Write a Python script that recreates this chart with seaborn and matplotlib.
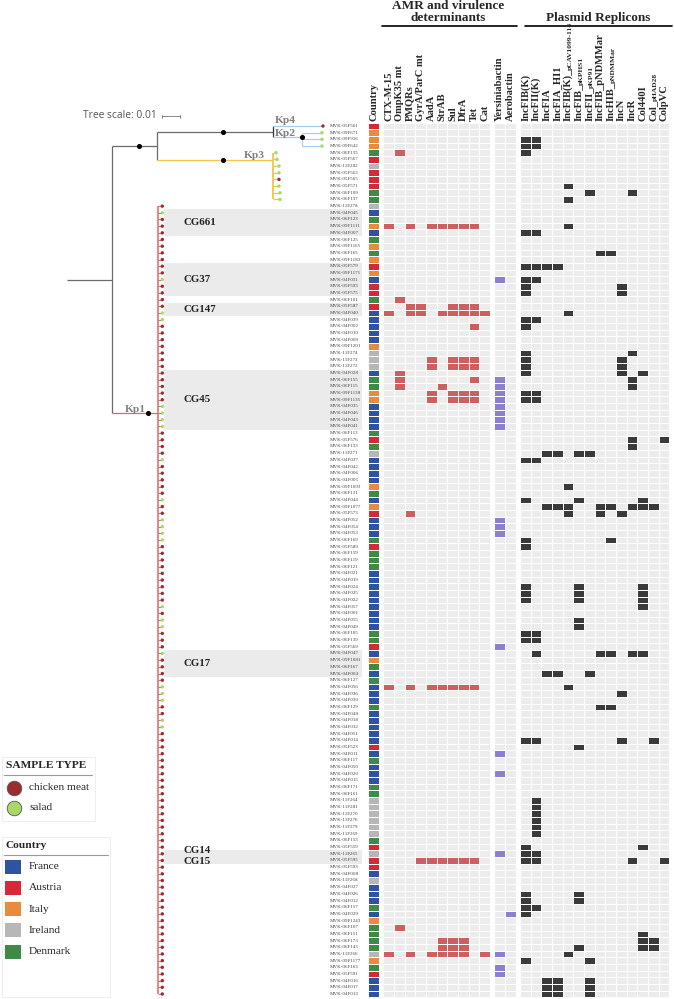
import matplotlib
matplotlib.use("Agg")
import matplotlib.pyplot as plt
from matplotlib.colors import ListedColormap
from matplotlib.patches import Rectangle
import numpy as np
import pandas as pd
import seaborn as sns

# ---------------------------------------------------------------- data
LEAF_IDS = [
    "05F561", "09F671", "09F916", "09F642", "06F135", "05F567", "11F282", "05F563", "05F565", "05F571",
    "06F109", "06F137", "11F278", "04F045", "06F123", "09F1111", "04F007", "06F125", "09F1165", "06F165",
    "09F1183", "05F579", "09F1171", "04F031", "05F593", "05F575", "06F101", "05F587", "04F040", "04F039",
    "04F002", "04F010", "04F009", "09F1201", "11F274", "11F273", "11F272", "04F028", "06F155", "06F115",
    "09F1138", "09F1135", "04F035", "04F046", "04F043", "04F041", "06F113", "05F576", "06F133", "11F271",
    "04F037", "04F042", "04F006", "04F005", "09F1093", "06F131", "04F044", "09F1077", "05F573", "04F052",
    "04F054", "04F053", "06F169", "05F589", "06F159", "06F119", "06F121", "04F021", "04F019", "04F024",
    "04F025", "04F022", "04F057", "04F001", "04F055", "04F049", "06F105", "06F139", "05F569", "04F047",
    "09F1081", "06F167", "04F004", "06F127", "04F056", "04F036", "04F030", "06F129", "04F048", "04F018",
    "04F032", "04F051", "04F014", "05F523", "04F011", "06F117", "04F050", "04F020", "04F015", "06F171",
    "06F161", "11F264", "11F281", "11F270", "11F276", "11F279", "11F269", "06F153", "05F559", "11F265",
    "05F595", "05F593", "04F008", "11F268", "04F027", "04F026", "04F012", "06F157", "04F029", "09F1243",
    "06F107", "06F151", "06F173", "06F143", "11F266", "09F1177", "06F163", "05F591", "04F016", "04F017",
    "04F013",
]

# F France, A Austria, I Italy, R Ireland, D Denmark (one letter per leaf, top to bottom)
COUNTRY_CODES = (
    "AIIIDARAAA" "DDRFDIFDID" "IAIFAADAFF" "FFFIRRRFDD" "IIFFFFDADR"
    "FFFFIDFIAF" "FFDADDDFFF" "FFFFFFDDAF" "IDFDFFFDFF" "FFFAFDFFFD"
    "DRRRRRRDAR" "AAFRFFFDFI" "DDDDRIDAFFF"
)
# C chicken meat, S salad
SAMPLE_CODES = (
    "CSSSSSSSCS" "SSCSCCCCCC" "CCCSCCCCSS" "CCCCCCCCCC" "CCSSSSCCCC"
    "SCCCCCSCCS" "SSSCCCCCCC" "CCSCSSCCCS" "CCCCSSSCCS" "SCCCCCCCCC"
    "CCCCCCCCCC" "CCCCCCCCCC" "CCCCCCCCCCC"
)

COUNTRIES = ["France", "Austria", "Italy", "Ireland", "Denmark"]
COUNTRY_KEYS = ["F", "A", "I", "R", "D"]
COUNTRY_COLORS = ["#2c54a3", "#d62839", "#ea8a3c", "#b7b7b7", "#3f8a45"]

SAMPLE_TYPES = ["chicken meat", "salad"]
SAMPLE_KEYS = ["C", "S"]
SAMPLE_COLORS = ["#9c2b2e", "#a8d968"]

AMR_LABELS = ["CTX-M-15", "OmpK35 mt", "PMQRs", "GyrA/ParC mt", "AadA",
              "StrAB", "Sul", "DfrA", "Tet", "Cat"]
# rows (1-based, top to bottom) carrying each determinant
AMR_ROWS = [
    [16, 29, 85, 125],
    [5, 27, 38, 39, 40, 121],
    [16, 28, 29, 59, 85, 125],
    [28, 29, 111],
    [16, 36, 37, 41, 42, 85, 111, 125],
    [16, 29, 40, 85, 111, 123, 124, 125],
    [16, 28, 29, 36, 37, 41, 42, 85, 111, 123, 124, 125],
    [16, 28, 29, 36, 37, 41, 42, 85, 111, 123, 124, 125],
    [16, 28, 29, 31, 36, 37, 39, 41, 42, 85, 111],
    [29, 125],
]

VIR_LABELS = ["Yersiniabactin", "Aerobactin"]
VIR_ROWS = [
    [24, 39, 40, 41, 42, 43, 44, 45, 46, 60, 61, 62, 79, 95, 98, 110, 125, 127, 128],
    [119],
]

PLASMID_LABELS = ["IncFIB(K)", "IncFII(K)", "IncFIA", "IncFIA_HI1", "IncFIB(K)_",
                  "IncFIB_", "IncFII_", "IncFIB_pNDMMar", "IncHIB_", "IncN", "IncR",
                  "Col440I", "Col_", "ColpVC"]
PLASMID_SUBS = ["", "", "", "", "pCAV1099-114", "pKPHS1", "pKP91", "", "pNDMMar",
                "", "", "", "pHAD28", ""]
PLASMID_ROWS = [
    [3, 4, 5, 17, 22, 24, 25, 26, 30, 31, 35, 36, 37, 38, 41, 42, 51, 57, 63, 64,
     70, 71, 72, 77, 78, 93, 109, 110, 111, 116, 117, 118, 119, 126],
    [3, 4, 17, 22, 24, 30, 41, 42, 51, 77, 78, 80, 93, 102, 103, 104, 105, 106,
     107, 110, 111, 118],
    [22, 50, 58, 83, 129, 130, 131],
    [22, 50, 58, 83, 129, 130, 131],
    [10, 12, 16, 29, 55, 58, 59, 85, 125],
    [50, 57, 70, 71, 72, 75, 76, 94, 116, 117, 124],
    [11, 50, 83, 126, 129, 130, 131],
    [20, 58, 59, 80, 88],
    [20, 58, 63, 80, 88],
    [25, 26, 36, 37, 38, 59, 86, 93],
    [11, 35, 39, 40, 48, 49, 58, 80, 111],
    [38, 57, 58, 70, 71, 72, 73, 80, 109, 122, 123, 124],
    [58, 93, 123, 124],
    [48, 111],
]

# clonal groups: (label, first row, last row, label nudge in rows)
CLONAL_GROUPS = [("CG661", 14, 17, 0), ("CG37", 22, 26, 0), ("CG147", 28, 29, 0),
                 ("CG45", 38, 46, 0), ("CG17", 80, 83, 0), ("CG14", 110, 110, -0.45),
                 ("CG15", 111, 111, 0.2)]

# tree depths (drawing units, 0.01 substitutions = 18 units)
ROOT_X, MID_X, UPPER_X, KP_SPLIT_X, KP2_X = 67, 112, 157, 273, 302
KP1_X, KP1_TIP = 158.3, 162.3
KP4_TIP, KP2_TIP = 323, 322
KP3_TIPS = [276, 277, 279, 279, 279, 279, 280, 280]   # rows 5-12

N = len(LEAF_IDS)

# ---------------------------------------------------------------- layout
W, H = 674, 999
TOP, PITCH = 122.66, 6.677
BOTTOM = TOP + N * PITCH

EMPTY = "#ececec"
AMR_RED = "#cf5f5f"
VIR_PURPLE = "#8b7fcf"
PLASMID_DARK = "#3a3a3a"
TREE_GREY = "#6a6a6a"
KP1_COL = "#d9686c"
KP3_COL = "#f3c545"
KP24_COL = "#a8cdef"
SERIF = ["Liberation Serif", "DejaVu Serif"]

sns.set_theme(style="white")
plt.rcParams["font.family"] = SERIF

fig = plt.figure(figsize=(W / 100, H / 100), dpi=100)


def px_axes(x0, x1, y0=TOP, y1=BOTTOM):
    return fig.add_axes([x0 / W, 1 - y1 / H, (x1 - x0) / W, (y1 - y0) / H])


def presence(rows_per_col):
    m = np.zeros((N, len(rows_per_col)), dtype=int)
    for c, rows in enumerate(rows_per_col):
        m[np.array(rows) - 1, c] = 1
    return m


def draw_block(ax, matrix, labels, colors):
    sns.heatmap(matrix, ax=ax, cmap=ListedColormap(colors), vmin=-0.5,
                vmax=len(colors) - 0.5, cbar=False, linewidths=0.6,
                linecolor="white", xticklabels=labels, yticklabels=False)
    ax.xaxis.tick_top()
    ax.set_xticklabels(labels, rotation=90, fontsize=7.6, fontweight="bold",
                       ha="center", va="bottom")
    ax.tick_params(axis="x", length=0, pad=1.5)
    ax.set_xlabel("")
    ax.set_ylabel("")
    return ax


# ---------------------------------------------------------------- heatmaps
country_idx = pd.DataFrame({"Country": [COUNTRY_KEYS.index(c) for c in COUNTRY_CODES]})
draw_block(px_axes(368.3, 379.0), country_idx, ["Country"], COUNTRY_COLORS)
draw_block(px_axes(383.3, 490.0), presence(AMR_ROWS), AMR_LABELS, [EMPTY, AMR_RED])
draw_block(px_axes(494.3, 515.7), presence(VIR_ROWS), VIR_LABELS, [EMPTY, VIR_PURPLE])
pax = draw_block(px_axes(520.0, 669.3), presence(PLASMID_ROWS), PLASMID_LABELS,
                 [EMPTY, PLASMID_DARK])

# subscripted replicon names: small text continuing each rotated label
fig.canvas.draw()
renderer = fig.canvas.get_renderer()
for lab, sub in zip(pax.get_xticklabels(), PLASMID_SUBS):
    if not sub:
        continue
    bb = lab.get_window_extent(renderer)
    fig.text((bb.x1 + 0.5) / W, (bb.y1 - 1.5) / H, sub, rotation=90, fontsize=5.4,
             fontweight="bold", ha="right", va="bottom")

# ---------------------------------------------------------------- tree
tax = px_axes(0, 368)
tax.set_xlim(0, 368)
tax.set_ylim(N, 0)
tax.axis("off")


def row_y(r):
    return r - 0.5


def seg(x0, y0, x1, y1, color, lw=0.9):
    tax.plot([x0, x1], [y0, y1], color=color, lw=lw, solid_capstyle="butt",
             clip_on=False, zorder=2)


for name, r0, r1, nudge in CLONAL_GROUPS:
    tax.add_patch(Rectangle((163.5, r0 - 1), 362 - 163.5, r1 - r0 + 1,
                            facecolor="#ebebeb", edgecolor="none", zorder=0))
    tax.text(184, (r0 + r1) / 2 - 0.5 + nudge, name, fontsize=7.8, fontweight="bold",
             color="#222222", va="center", ha="left", zorder=3)

upper_y, kp1_y = row_y(4), row_y(44)
kp24_y, kp3_y = 1.35, 5.6
seg(ROOT_X, (upper_y + kp1_y) / 2, MID_X, (upper_y + kp1_y) / 2, TREE_GREY)
seg(MID_X, upper_y, MID_X, kp1_y, TREE_GREY)
seg(MID_X, upper_y, UPPER_X, upper_y, TREE_GREY)
seg(UPPER_X, kp24_y, UPPER_X, kp3_y, TREE_GREY)
seg(UPPER_X, kp24_y, KP_SPLIT_X, kp24_y, TREE_GREY)
seg(KP_SPLIT_X, 0.55, KP_SPLIT_X, 2.2, "#333333")
# Kp4
seg(KP_SPLIT_X, row_y(1), KP4_TIP, row_y(1), KP24_COL)
# Kp2
seg(KP_SPLIT_X, 2.2, KP2_X, 2.2, KP24_COL)
seg(KP2_X, row_y(2), KP2_X, row_y(4), KP24_COL)
for r in (2, 3, 4):
    seg(KP2_X, row_y(r), KP2_TIP, row_y(r), KP24_COL)
# Kp3
seg(UPPER_X, kp3_y, KP_SPLIT_X, kp3_y, KP3_COL)
seg(KP_SPLIT_X - 0.5, row_y(5), KP_SPLIT_X - 0.5, row_y(12), KP3_COL, lw=1.3)
for i, tx in enumerate(KP3_TIPS):
    seg(KP_SPLIT_X, row_y(5 + i), tx, row_y(5 + i), KP3_COL)
# Kp1
seg(MID_X, kp1_y, KP1_X, kp1_y, KP1_COL)
seg(KP1_X, row_y(13), KP1_X, row_y(N), KP1_COL, lw=1.1)
for r in range(13, N + 1):
    seg(KP1_X, row_y(r), KP1_TIP, row_y(r), KP1_COL, lw=0.7)

# internal node markers
nodes_x = [139, 223, 223, KP2_X, 147.7]
nodes_y = [upper_y, kp24_y, kp3_y, 2.2, kp1_y]
tax.scatter(nodes_x, nodes_y, s=7, color="black", zorder=4, clip_on=False)

tip_x = [KP4_TIP] + [KP2_TIP] * 3 + KP3_TIPS + [KP1_TIP] * (N - 12)
tip_col = [SAMPLE_COLORS[SAMPLE_KEYS.index(s)] for s in SAMPLE_CODES]
tax.scatter(tip_x, [row_y(r) for r in range(1, N + 1)], s=6, c=tip_col,
            linewidths=0, zorder=4, clip_on=False)

for r, leaf in enumerate(LEAF_IDS, start=1):
    tax.text(330, row_y(r), "MVK-" + leaf, fontsize=3.6, color="#444444",
             va="center", ha="left", zorder=3)

# ---------------------------------------------------------------- overlay
oax = fig.add_axes([0, 0, 1, 1])
oax.set_xlim(0, W)
oax.set_ylim(H, 0)
oax.axis("off")

for txt, x, y in [("Kp4", 275, 120.5), ("Kp2", 275, 134), ("Kp3", 244, 156), ("Kp1", 125, 409)]:
    oax.text(x, y, txt, fontsize=8.2, fontweight="bold", color="#808080",
             ha="left", va="center")

oax.text(83, 116, "Tree scale: 0.01", fontsize=7.4, family=["Open Sans", "DejaVu Sans"],
         color="#555555", ha="left", va="center")
oax.plot([162, 180], [116, 116], color="#777777", lw=0.6)
oax.plot([162, 162], [114.5, 117.5], color="#777777", lw=0.6)
oax.plot([180, 180], [114.5, 117.5], color="#777777", lw=0.6)

oax.text(448, 12, "AMR and virulence\ndeterminants", fontsize=9.5, fontweight="bold",
         ha="center", va="center", linespacing=0.95)
oax.plot([382, 517], [25.5, 25.5], color="black", lw=1.2)
oax.text(598, 18, "Plasmid Replicons", fontsize=9.5, fontweight="bold",
         ha="center", va="center")
oax.plot([525, 672], [25.5, 25.5], color="black", lw=1.2)

# sample type legend
oax.add_patch(Rectangle((2, 757), 93, 64, facecolor="white", edgecolor="#eeeeee", lw=0.8))
oax.text(6, 766, "SAMPLE TYPE", fontsize=8.2, fontweight="bold", ha="left", va="center")
oax.plot([4, 92], [775, 775], color="#999999", lw=0.8)
for i, (lab, col) in enumerate(zip(SAMPLE_TYPES, SAMPLE_COLORS)):
    y = 787.5 + i * 20.5
    oax.scatter([14], [y], s=110, color=col, edgecolors="#555555", linewidths=0.6)
    oax.text(29, y, lab, fontsize=8.2, ha="left", va="center")

# country legend
oax.add_patch(Rectangle((2, 837), 108, 160, facecolor="white", edgecolor="#eeeeee", lw=0.8))
oax.text(5, 845.5, "Country", fontsize=8.2, fontweight="bold", ha="left", va="center")
oax.plot([4, 108], [855, 855], color="#999999", lw=0.8)
for i, (lab, col) in enumerate(zip(COUNTRIES, COUNTRY_COLORS)):
    y = 866.5 + i * 21.3
    oax.add_patch(Rectangle((5, y - 7), 16, 14, facecolor=col, edgecolor="none"))
    oax.text(29, y, lab, fontsize=8.2, ha="left", va="center")

fig.savefig("out.png", dpi=100, facecolor="white")
